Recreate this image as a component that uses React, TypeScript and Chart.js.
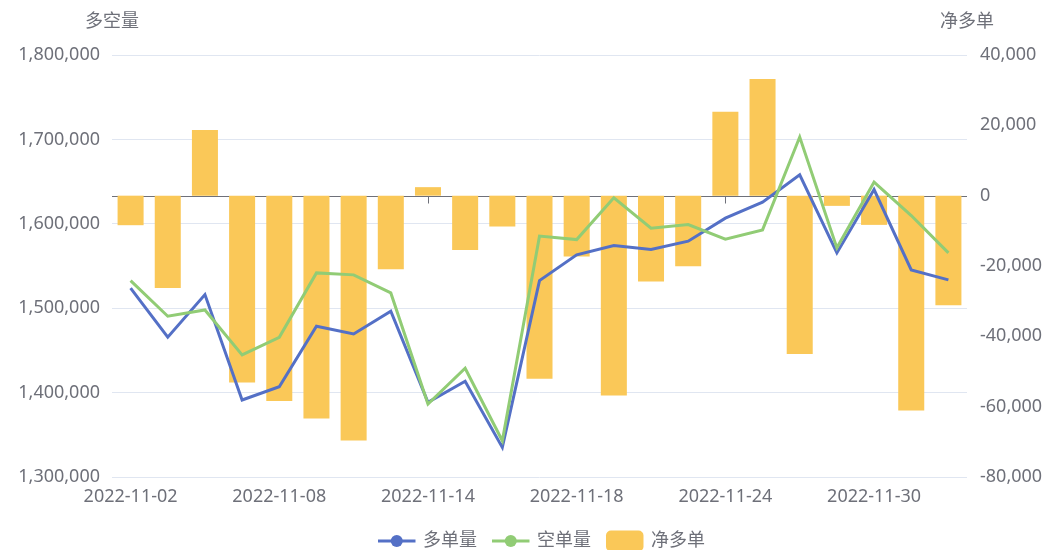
import React, { useEffect, useRef } from 'react';
import { Chart, registerables } from 'chart.js';

Chart.register(...registerables);

const categories = [
  '2022-11-02', '2022-11-03', '2022-11-04', '2022-11-07', '2022-11-08', '2022-11-09',
  '2022-11-10', '2022-11-11', '2022-11-14', '2022-11-15', '2022-11-16', '2022-11-17',
  '2022-11-18', '2022-11-21', '2022-11-22', '2022-11-23', '2022-11-24', '2022-11-25',
  '2022-11-28', '2022-11-29', '2022-11-30', '2022-12-01', '2022-12-02',
];

const longVolume = [
  1523700, 1465600, 1516100, 1391200, 1407000, 1478600, 1469500, 1496400,
  1388500, 1413400, 1335100, 1532700, 1563200, 1574200, 1569500, 1579400,
  1606700, 1625700, 1658000, 1565500, 1640600, 1545400, 1533500,
];

const shortVolume = [
  1532700, 1490500, 1497900, 1444600, 1465600, 1541800, 1539500, 1518100,
  1386500, 1428800, 1342900, 1585400, 1581300, 1630800, 1594800, 1599100,
  1581800, 1592800, 1702800, 1571500, 1649400, 1609800, 1565500,
];

const netLong = [
  -8400, -26250, 18650, -53100, -58420, -63350, -69600, -20930,
  2420, -15430, -8770, -52040, -17310, -56800, -24430, -20070,
  23860, 33170, -45040, -2900, -8310, -61070, -31170,
];

const seriesNames = ['多单量', '空单量', '净多单'];
const leftAxisTitle = '多空量';
const rightAxisTitle = '净多单';
const leftAxisRange = [1300000, 1800000, 100000];
const rightAxisRange = [-80000, 40000, 20000];
const labelEvery = 4;

const FONT = '"Noto Sans", "Noto Sans CJK SC", sans-serif';
const TEXT_COLOR = '#6E7079';
const COLORS = ['#5470C6', '#91CC75', '#FAC858'];

const decorPlugin = {
  id: 'decor',
  beforeDatasetsDraw(chart: any) {
    const { ctx, chartArea } = chart;
    const y0 = Math.round(chart.scales.yRight.getPixelForValue(0)) + 0.5;
    const xs = chart.scales.x;
    ctx.save();
    ctx.strokeStyle = TEXT_COLOR;
    ctx.lineWidth = 1;
    ctx.beginPath();
    ctx.moveTo(chartArea.left, y0);
    ctx.lineTo(chartArea.right, y0);
    categories.forEach((_, i) => {
      if (i % labelEvery === 0) {
        const x = Math.round(xs.getPixelForValue(i)) + 0.5;
        ctx.moveTo(x, y0);
        ctx.lineTo(x, y0 + 7);
      }
    });
    ctx.stroke();
    ctx.restore();
  },
  afterDraw(chart: any) {
    const { ctx, chartArea } = chart;
    ctx.save();
    ctx.font = `18px ${FONT}`;
    ctx.fillStyle = TEXT_COLOR;
    ctx.textAlign = 'center';
    ctx.textBaseline = 'middle';
    ctx.fillText(leftAxisTitle, chartArea.left, 22);
    ctx.fillText(rightAxisTitle, chartArea.right, 22);

    // legend
    let x = 378;
    const yc = 541;
    const iconW = 37.5;
    const iconH = 21;
    seriesNames.forEach((name, i) => {
      const color = COLORS[i];
      if (i < 2) {
        ctx.strokeStyle = color;
        ctx.lineWidth = 3;
        ctx.beginPath();
        ctx.moveTo(x, yc);
        ctx.lineTo(x + iconW, yc);
        ctx.stroke();
        ctx.fillStyle = color;
        ctx.beginPath();
        ctx.arc(x + iconW / 2, yc, 6, 0, Math.PI * 2);
        ctx.fill();
      } else {
        ctx.fillStyle = color;
        ctx.beginPath();
        (ctx as any).roundRect(x, yc - iconH / 2, iconW, iconH, 5);
        ctx.fill();
      }
      ctx.fillStyle = TEXT_COLOR;
      ctx.textAlign = 'left';
      ctx.textBaseline = 'middle';
      const tx = x + iconW + 7.5;
      ctx.fillText(name, tx, yc);
      x = tx + ctx.measureText(name).width + 15;
    });
    ctx.restore();
  },
};

export default function App() {
  const canvasRef = useRef<HTMLCanvasElement>(null);

  useEffect(() => {
    const canvas = canvasRef.current;
    if (!canvas) return;
    const tickFont = { family: FONT, size: 18 };
    const chart = new Chart(canvas, {
      type: 'bar',
      data: {
        labels: categories,
        datasets: [
          {
            type: 'line',
            label: seriesNames[0],
            data: longVolume,
            yAxisID: 'yLeft',
            borderColor: COLORS[0],
            backgroundColor: COLORS[0],
            borderWidth: 3,
            pointRadius: 0,
            tension: 0,
            order: 2,
          } as any,
          {
            type: 'line',
            label: seriesNames[1],
            data: shortVolume,
            yAxisID: 'yLeft',
            borderColor: COLORS[1],
            backgroundColor: COLORS[1],
            borderWidth: 3,
            pointRadius: 0,
            tension: 0,
            order: 1,
          } as any,
          {
            type: 'bar',
            label: seriesNames[2],
            data: netLong,
            yAxisID: 'yRight',
            backgroundColor: COLORS[2],
            barPercentage: 0.7,
            categoryPercentage: 1,
            order: 3,
          } as any,
        ],
      },
      options: {
        responsive: false,
        animation: false,
        layout: { padding: { top: 55, left: 0, right: 0, bottom: 0 } },
        plugins: { legend: { display: false }, tooltip: { enabled: false } },
        scales: {
          x: {
            type: 'category',
            offset: true,
            grid: { display: false },
            border: { display: false },
            ticks: {
              autoSkip: false,
              maxRotation: 0,
              padding: 1,
              color: TEXT_COLOR,
              font: tickFont,
              callback: (_v: any, i: number) => (i % labelEvery === 0 ? categories[i] : ''),
            },
            afterFit: (s: any) => { s.height = 73; },
          },
          yLeft: {
            type: 'linear',
            position: 'left',
            min: leftAxisRange[0],
            max: leftAxisRange[1],
            grid: { color: '#E0E6F1', drawTicks: false },
            border: { display: false },
            ticks: {
              stepSize: leftAxisRange[2],
              padding: 12,
              color: TEXT_COLOR,
              font: tickFont,
              callback: (v: any) => Number(v).toLocaleString('en-US'),
            },
            afterFit: (s: any) => { s.width = 112; },
          },
          yRight: {
            type: 'linear',
            position: 'right',
            min: rightAxisRange[0],
            max: rightAxisRange[1],
            grid: { display: false, drawTicks: false },
            border: { display: false },
            ticks: {
              stepSize: rightAxisRange[2],
              padding: 13,
              color: TEXT_COLOR,
              font: tickFont,
              callback: (v: any) => Number(v).toLocaleString('en-US'),
            },
            afterFit: (s: any) => { s.width = 82; },
          },
        },
      },
      plugins: [decorPlugin],
    });
    return () => chart.destroy();
  }, []);

  return (
    <div style={{ position: 'fixed', left: 0, top: 0, width: 1049, height: 550, background: '#fff' }}>
      <canvas ref={canvasRef} width={1049} height={550} style={{ display: 'block', width: 1049, height: 550 }} />
    </div>
  );
}
